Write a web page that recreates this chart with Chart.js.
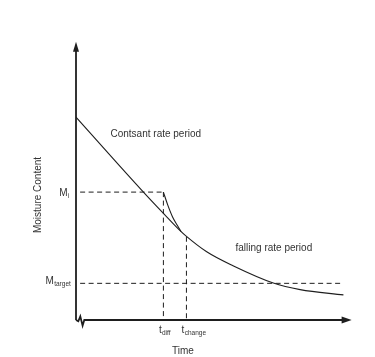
<!DOCTYPE html>
<html>
<head>
<meta charset="utf-8">
<script src="https://cdn.jsdelivr.net/npm/chart.js@4"></script>
<style>
  body { margin: 0; background: #fff; }
  canvas { display: block; }
</style>
</head>
<body>
<canvas id="dryingChart" width="375" height="357"></canvas>
<script>
// drying curve (time and moisture in arbitrary units 0..100)
const timeMain = [0, 14.2, 25.2, 32.1, 38.0, 40.1, 47.7, 57.3, 72.0, 81.8, 97.6];
const moistureMain = [73.1, 57.5, 45.6, 38.4, 32.4, 30.5, 24.8, 19.8, 13.6, 11.25, 9.35];

// diffusion-limited branch starting from M_i
const timeDiffusion = [31.9, 33.4, 35.2, 36.9, 38.3];
const moistureDiffusion = [46.2, 41.8, 37.4, 34.4, 32.1];

// reference levels
const mInitial = 46.2;
const mTarget = 13.5;
const tDiff = 31.9;
const tChange = 40.3;
const tEnd = 97.6;

const ink = "#1e1e1e";
const textColor = "#333";
const fontFamily = "'Liberation Sans', Arial, sans-serif";

function pts(xs, ys) {
    return xs.map((x, i) => ({ x: x, y: ys[i] }));
}

function dashed(points) {
    return {
        data: points,
        showLine: true,
        borderColor: ink,
        borderWidth: 1,
        borderDash: [5, 3.5],
        pointRadius: 0,
        fill: false,
    };
}

const data = {
    datasets: [
        {
            data: pts(timeMain, moistureMain),
            showLine: true,
            borderColor: ink,
            borderWidth: 1.1,
            cubicInterpolationMode: "monotone",
            pointRadius: 0,
            fill: false,
        },
        {
            data: pts(timeDiffusion, moistureDiffusion),
            showLine: true,
            borderColor: ink,
            borderWidth: 1.1,
            cubicInterpolationMode: "monotone",
            pointRadius: 0,
            fill: false,
        },
        dashed([{ x: 1.5, y: mInitial }, { x: tDiff, y: mInitial }]),
        dashed([{ x: 1.5, y: mTarget }, { x: tEnd, y: mTarget }]),
        dashed([{ x: tDiff, y: mInitial }, { x: tDiff, y: 0 }]),
        dashed([{ x: tChange, y: 30.2 }, { x: tChange, y: 0 }]),
    ],
};

// axes with arrows, the break mark and all the labels
const sketchPlugin = {
    id: "sketch",
    afterDatasetsDraw(chart) {
        const ctx = chart.ctx;
        const xs = chart.scales.x;
        const ys = chart.scales.y;
        const x0 = xs.getPixelForValue(0);
        const y0 = ys.getPixelForValue(0);
        const xTip = xs.getPixelForValue(100.6);
        const yTip = ys.getPixelForValue(100.1);

        ctx.save();
        ctx.strokeStyle = ink;
        ctx.fillStyle = ink;
        ctx.lineWidth = 1.8;
        ctx.lineJoin = "miter";

        // y axis
        ctx.beginPath();
        ctx.moveTo(x0, y0 - 1);
        ctx.lineTo(x0, yTip + 8);
        ctx.stroke();
        ctx.beginPath();
        ctx.moveTo(x0, yTip);
        ctx.lineTo(x0 - 3, yTip + 10);
        ctx.lineTo(x0 + 3, yTip + 10);
        ctx.closePath();
        ctx.fill();

        // break zigzag + x axis
        ctx.beginPath();
        ctx.moveTo(x0, y0 - 1);
        ctx.lineTo(x0 + 2.3, y0 + 0.3);
        ctx.lineTo(x0 + 4.3, y0 - 4.6);
        ctx.lineTo(x0 + 6.6, y0 + 4.7);
        ctx.lineTo(x0 + 8.3, y0 - 1);
        ctx.lineTo(xTip - 8, y0 - 1);
        ctx.stroke();
        ctx.beginPath();
        ctx.moveTo(xTip, y0 - 1);
        ctx.lineTo(xTip - 10, y0 - 4.5);
        ctx.lineTo(xTip - 10, y0 + 2.5);
        ctx.closePath();
        ctx.fill();

        ctx.fillStyle = textColor;
        ctx.textBaseline = "alphabetic";

        // region labels
        ctx.font = "10px " + fontFamily;
        ctx.textAlign = "left";
        ctx.fillText("Contsant rate period", 110.5, 136.5);
        ctx.fillText("falling rate period", 235.5, 251);
        ctx.textAlign = "center";
        ctx.fillText("Time", xs.getPixelForValue(39), 354);

        ctx.save();
        ctx.translate(40.5, 195);
        ctx.rotate(-Math.PI / 2);
        ctx.fillText("Moisture Content", 0, 0);
        ctx.restore();

        // subscripted labels
        function subLabel(main, sub, x, y, align) {
            ctx.font = "10px " + fontFamily;
            const wMain = ctx.measureText(main).width;
            ctx.font = "6.5px " + fontFamily;
            const wSub = ctx.measureText(sub).width;
            let left = x;
            if (align === "right") left = x - wMain - wSub;
            ctx.textAlign = "left";
            ctx.font = "10px " + fontFamily;
            ctx.fillText(main, left, y);
            ctx.font = "6.5px " + fontFamily;
            ctx.fillText(sub, left + wMain + 0.3, y + 2);
        }

        subLabel("M", "i", x0 - 7, ys.getPixelForValue(mInitial) + 3.5, "right");
        subLabel("M", "target", x0 - 5.5, ys.getPixelForValue(mTarget) + 0.5, "right");
        subLabel("t", "diff", xs.getPixelForValue(tDiff) - 4.5, 333, "left");
        subLabel("t", "change", xs.getPixelForValue(tChange) - 4.8, 333, "left");

        ctx.restore();
    },
};

const config = {
    type: "scatter",
    data: data,
    options: {
        responsive: false,
        animation: false,
        devicePixelRatio: 1,
        layout: {
            padding: { left: 76, right: 25, top: 42, bottom: 36 },
        },
        scales: {
            x: { type: "linear", min: 0, max: 100, display: false },
            y: { type: "linear", min: 0, max: 100, display: false },
        },
        plugins: {
            legend: { display: false },
            tooltip: { enabled: false },
        },
    },
    plugins: [sketchPlugin],
};

const dryingChart = new Chart(document.getElementById("dryingChart").getContext("2d"), config);
</script>
</body>
</html>
